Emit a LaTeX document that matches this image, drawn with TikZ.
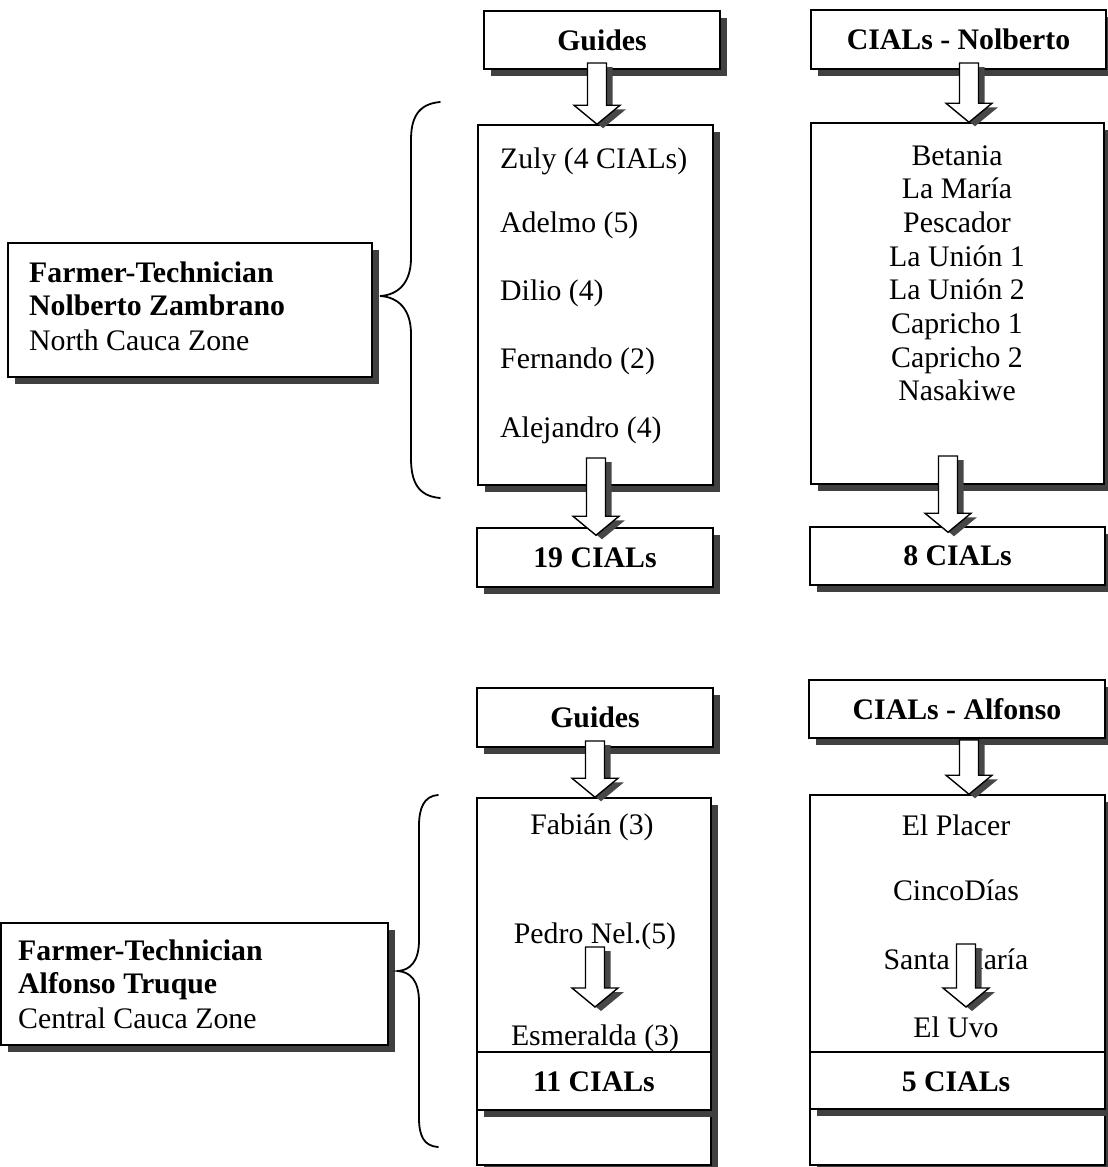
\documentclass[tikz,border=0pt]{standalone}
\usepackage{fontspec}
\setmainfont{Liberation Serif}
\usetikzlibrary{shadows,calc}

\tikzset{
  boxbase/.style={draw=black, line width=1.5pt, fill=white, rectangle, inner sep=0pt,
    font=\fontsize{29.8}{34}\selectfont\bfseries},
  box/.style={boxbase,
    drop shadow={shadow xshift=7pt, shadow yshift=-7pt, fill=black!75, opacity=1}},
  txt/.style={inner sep=0pt, font=\fontsize{29.8}{34}\selectfont},
  brace/.style={draw=black, line width=1.8pt, line cap=round},
  arrowbody/.style={draw=black, line width=1.4pt, fill=white, line join=miter},
  arrowshade/.style={fill=black!72},
}

% outline of a hollow block arrow: #1 shaft top, #2 tip, #3/#4 offset, #5 path options
\newcommand\arrowoutline[5]{%
  \path[#5] let \p1=(#1), \p2=(#2) in
    ({\x2-9.5pt+#3},{\y1+#4}) -- ({\x2-9.5pt+#3},{\y2+19pt+#4}) --
    ({\x2-23pt+#3},{\y2+19pt+#4}) -- ({\x2+#3},{\y2+#4}) --
    ({\x2+23pt+#3},{\y2+19pt+#4}) -- ({\x2+9.5pt+#3},{\y2+19pt+#4}) --
    ({\x2+9.5pt+#3},{\y1+#4}) -- cycle;
}
\newcommand\fatarrow[2]{%
  \arrowoutline{#1}{#2}{6pt}{-4pt}{arrowshade}%
  \arrowoutline{#1}{#2}{0pt}{0pt}{arrowbody}%
}

\begin{document}
\begin{tikzpicture}[x=1pt,y=-1pt]
\useasboundingbox (0,0) rectangle (1108,1167);

% ---------- North Cauca ----------
\node[box, minimum width=364pt, minimum height=134pt] (farmA) at (190,310) {};
\node[txt, anchor=base west] (farmA1) at (29,282) {\textbf{Farmer-Technician}};
\node[txt, anchor=base west] (farmA2) at (29,315) {\textbf{Nolberto Zambrano}};
\node[txt, anchor=base west] (farmA3) at (29,350) {North Cauca Zone};

\node[box, minimum width=236pt, minimum height=58pt] (guidesA) at (602,40) {Guides};
\node[box, minimum width=295pt, minimum height=59pt] (nolbA) at (958.5,39.5) {CIALs - Nolberto};

\node[box, minimum width=235pt, minimum height=360pt] (listA) at (595.5,305) {};
\node[box, minimum width=293pt, minimum height=361pt] (listB) at (957.5,303.5) {};

\node[box, minimum width=236pt, minimum height=59pt] (totA) at (595,557.5) {19 CIALs};
\node[box, minimum width=295pt, minimum height=58pt] (totB) at (957.5,556) {8 CIALs};

\node[txt, anchor=base west] (gA1) at (500,168) {Zuly (4 CIALs)};
\node[txt, anchor=base west] (gA2) at (500,232) {Adelmo (5)};
\node[txt, anchor=base west] (gA3) at (500,300) {Dilio (4)};
\node[txt, anchor=base west] (gA4) at (500,368) {Fernando (2)};
\node[txt, anchor=base west] (gA5) at (500,437) {Alejandro (4)};

\foreach \name [count=\i from 0] in {Betania, La María, Pescador, La Unión 1,
    La Unión 2, Capricho 1, Capricho 2, Nasakiwe}
  \node[txt, anchor=base] (cB\i) at (957,{165+33.7*\i}) {\name};

\draw[brace] (440,102) .. controls (418,104) and (411,118) .. (411,140) -- (411,258)
  .. controls (411,283) and (398,295) .. (380,296)
  .. controls (398,297) and (411,309) .. (411,334) -- (411,458)
  .. controls (411,482) and (418,496) .. (440,498);

% ---------- Central Cauca ----------
\node[box, minimum width=387pt, minimum height=122pt] (farmB) at (194.5,984) {};
\node[txt, anchor=base west] (farmB1) at (18,960) {\textbf{Farmer-Technician}};
\node[txt, anchor=base west] (farmB2) at (18,993) {\textbf{Alfonso Truque}};
\node[txt, anchor=base west] (farmB3) at (18,1028) {Central Cauca Zone};

\node[box, minimum width=236pt, minimum height=59pt] (guidesB) at (595,717.5) {Guides};
\node[box, minimum width=296pt, minimum height=58pt] (alfB) at (957,709) {CIALs - Alfonso};

\node[box, minimum width=234pt, minimum height=55pt] (emptyC) at (594,1137.5) {};
\node[box, minimum width=295pt, minimum height=56pt] (emptyD) at (957.5,1137) {};

\node[box, minimum width=234pt, minimum height=312pt] (listC) at (594,954) {};
\node[box, minimum width=295pt, minimum height=314pt] (listD) at (957.5,952) {};
\draw[line width=1.5pt] (listC.west |- 0,1052) -- (listC.east |- 0,1052);
\draw[line width=1.5pt] (listD.west |- 0,1052) -- (listD.east |- 0,1052);

\node[txt, anchor=base] (gC1) at (592,834) {Fabián (3)};
\node[txt, anchor=base] (gC2) at (595,943) {Pedro Nel.(5)};
\node[txt, anchor=base] (gC3) at (595,1045) {Esmeralda (3)};
\node[txt, anchor=base] (totC) at (594,1091) {\textbf{11 CIALs}};

\node[txt, anchor=base] (cD1) at (956,835) {El Placer};
\node[txt, anchor=base] (cD2) at (956,900) {CincoDías};
\node[txt, anchor=base] (cD3) at (956,969) {Santa María};
\node[txt, anchor=base] (cD4) at (956,1037) {El Uvo};
\node[txt, anchor=base] (totD) at (956,1091) {\textbf{5 CIALs}};

\draw[brace] (438,795) .. controls (424,796) and (419,808) .. (419,826) -- (419,940)
  .. controls (419,962) and (410,970) .. (398,971)
  .. controls (410,972) and (419,980) .. (419,1002) -- (419,1118)
  .. controls (419,1136) and (424,1146) .. (438,1147);

% ---------- block arrows ----------
\coordinate (a1s) at (597,63);   \coordinate (a1t) at (a1s |- listA.north);
\coordinate (a2s) at (596,458);  \coordinate (a2t) at ($(a2s |- totA.north)+(0,8)$);
\coordinate (a3s) at (969,63);   \coordinate (a3t) at (a3s |- listB.north);
\coordinate (a4s) at (948,456);  \coordinate (a4t) at ($(a4s |- totB.north)+(0,6)$);
\coordinate (a5s) at (595,741);  \coordinate (a5t) at (a5s |- listC.north);
\coordinate (a6s) at (969,740);  \coordinate (a6t) at (a6s |- listD.north);
\coordinate (a7s) at (595,947);  \coordinate (a7t) at (595,1007);
\coordinate (a8s) at (966,944);  \coordinate (a8t) at (966,1007);

\fatarrow{a1s}{a1t}
\fatarrow{a2s}{a2t}
\fatarrow{a3s}{a3t}
\fatarrow{a4s}{a4t}
\fatarrow{a5s}{a5t}
\fatarrow{a6s}{a6t}
\fatarrow{a7s}{a7t}
\fatarrow{a8s}{a8t}
\end{tikzpicture}
\end{document}
